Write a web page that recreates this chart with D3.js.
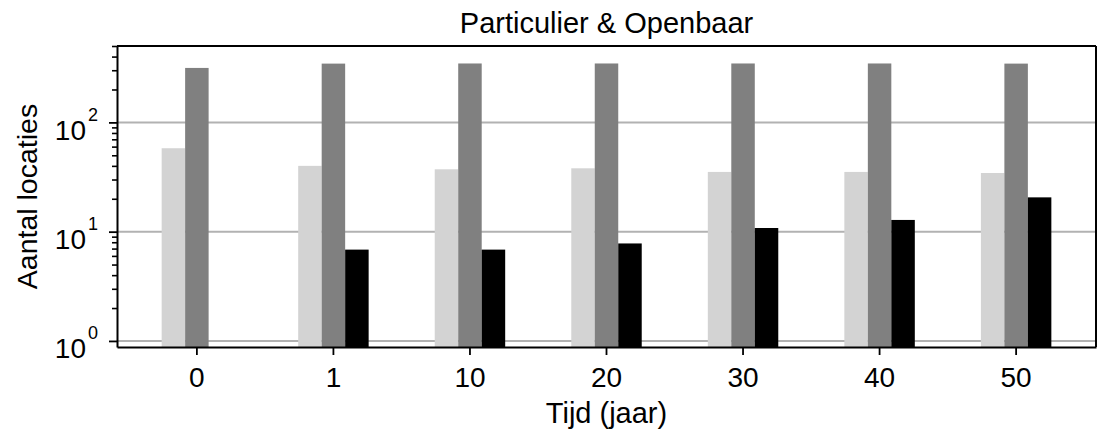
<!DOCTYPE html>
<html lang="nl">
<head>
<meta charset="UTF-8" />
<title>Particulier & Openbaar</title>
<script src="https://d3js.org/d3.v7.min.js"></script>
<style>
  html, body { margin: 0; padding: 0; background: #fff; }
  svg { display: block; font-family: "Liberation Sans", Arial, sans-serif; }
</style>
</head>
<body>
<svg id="chart" width="1097" height="432"></svg>
<script>
// tijdstappen (jaar)
const categories = ["0", "1", "10", "20", "30", "40", "50"];
// drie reeksen, licht -> donker
const seriesLight = [58, 40, 37.2, 38, 35.2, 35.2, 34.4];
const seriesMid   = [315, 345, 346, 346, 346, 346, 345];
const seriesDark  = [null, 6.85, 6.85, 7.8, 10.8, 12.8, 20.6];
const seriesColors = ["#d3d3d3", "#808080", "#000000"];
const majorTicks = [1, 10, 100];
const exponents  = ["0", "1", "2"];

const svg = d3.select("#chart");
const margin = { top: 46, right: 1, bottom: 85, left: 117 };
const W = 1097, H = 432;
const w = W - margin.left - margin.right;
const h = H - margin.top - margin.bottom;

const g = svg.append("g")
  .attr("transform", `translate(${margin.left},${margin.top})`);

const x = d3.scaleBand()
  .domain(categories)
  .range([0, w])
  .paddingInner(0)
  .paddingOuter(0.085);

const barW = x.bandwidth() * 0.172;

const y = d3.scaleLog()
  .domain([0.88, 500])
  .range([h, 0]);

// gridlines
g.append("g")
  .selectAll("line")
  .data(majorTicks)
  .enter().append("line")
    .attr("x1", 0).attr("x2", w)
    .attr("y1", d => y(d)).attr("y2", d => y(d))
    .attr("stroke", "#b2b2b2")
    .attr("stroke-width", 2);

// bars
const series = [seriesLight, seriesMid, seriesDark];
series.forEach((vals, si) => {
  g.append("g")
    .selectAll("rect")
    .data(vals.map((v, i) => ({ cat: categories[i], v })).filter(d => d.v != null))
    .enter().append("rect")
      .attr("x", d => x(d.cat) + x.bandwidth() / 2 + (si - 1.5) * barW)
      .attr("width", barW)
      .attr("y", d => y(d.v))
      .attr("height", d => h - y(d.v))
      .attr("fill", seriesColors[si]);
});

// minor y ticks
const minorTicks = y.ticks().filter(d => d >= 1 && !majorTicks.includes(d));
g.append("g")
  .call(d3.axisLeft(y).tickValues(minorTicks).tickSize(5).tickSizeOuter(0).tickFormat(""))
  .call(a => a.select(".domain").remove())
  .selectAll("line").attr("stroke-width", 1.6);

// major y ticks + labels 10^n
const yAxis = g.append("g")
  .call(d3.axisLeft(y).tickValues(majorTicks).tickSize(8).tickSizeOuter(0).tickPadding(11));
yAxis.select(".domain").attr("stroke-width", 2);
yAxis.selectAll("line").attr("stroke-width", 1.8);
yAxis.selectAll(".tick text")
  .attr("font-size", "28px")
  .attr("fill", "#000")
  .attr("dy", "0.6em")
  .text(null)
  .each(function(d, i) {
    const t = d3.select(this);
    t.append("tspan").text("10");
    t.append("tspan").attr("font-size", "18px").attr("dy", "-19").attr("dx", "2").text(exponents[i]);
  });

// x axis
const xAxis = g.append("g")
  .attr("transform", `translate(0,${h})`)
  .call(d3.axisBottom(x).tickSize(8).tickSizeOuter(0).tickPadding(12));
xAxis.select(".domain").attr("stroke-width", 2);
xAxis.selectAll("line").attr("stroke-width", 1.8);
xAxis.selectAll("text")
  .attr("font-size", "28px")
  .attr("fill", "#000");

// frame top + right
g.append("line")
  .attr("x1", 0).attr("x2", w).attr("y1", 0).attr("y2", 0)
  .attr("stroke", "#000").attr("stroke-width", 2);
g.append("line")
  .attr("x1", w).attr("x2", w).attr("y1", 0).attr("y2", h)
  .attr("stroke", "#000").attr("stroke-width", 2);

// labels
svg.append("text")
  .attr("x", margin.left + w / 2)
  .attr("y", 33)
  .attr("text-anchor", "middle")
  .attr("font-size", "29px")
  .text("Particulier & Openbaar");

svg.append("text")
  .attr("x", margin.left + w / 2)
  .attr("y", 423)
  .attr("text-anchor", "middle")
  .attr("font-size", "29px")
  .text("Tijd (jaar)");

svg.append("text")
  .attr("transform", `translate(37,${margin.top + h / 2}) rotate(-90)`)
  .attr("text-anchor", "middle")
  .attr("font-size", "28.5px")
  .text("Aantal locaties");
</script>
</body>
</html>
